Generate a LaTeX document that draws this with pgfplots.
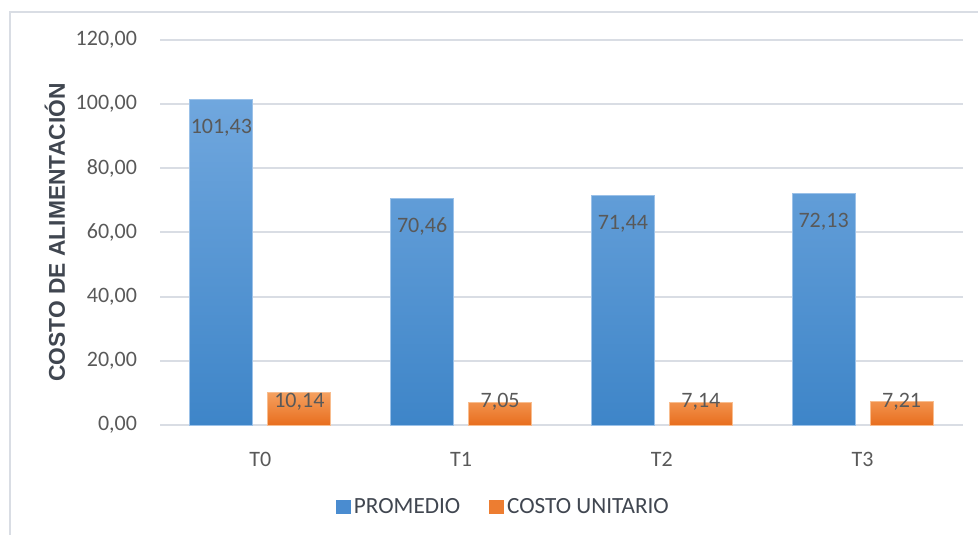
\documentclass[border=0pt]{standalone}
\usepackage{pgfplots}
\pgfplotsset{compat=1.18}
\usepackage{fontspec}
\setmainfont{Carlito}
\newfontfamily\labfont{Liberation Sans}
\definecolor{txt}{RGB}{89,89,89}
\definecolor{ylab}{RGB}{64,70,80}
\definecolor{gridc}{RGB}{217,221,228}
\definecolor{blueT}{RGB}{112,167,222}
\definecolor{blueB}{RGB}{62,133,200}
\definecolor{orT}{RGB}{245,160,95}
\definecolor{orB}{RGB}{232,110,30}
\definecolor{blueL}{RGB}{74,140,208}
\definecolor{orL}{RGB}{237,125,49}
\begin{document}
\begin{tikzpicture}
\path[use as bounding box] (0,0) rectangle (489bp,267.5bp);
\draw[gridc, line width=1bp] (5bp,0) -- (5bp,261.25bp) -- (489bp,261.25bp);
\begin{axis}[
  at={(80bp,55bp)}, anchor=south west,
  scale only axis, width=401.5bp, height=192.5bp,
  xmin=-0.5, xmax=3.5, ymin=0, ymax=120,
  xtick={0,1,2,3}, xticklabels={T0,T1,T2,T3},
  ytick={0,20,...,120},
  axis line style={draw=none},
  major tick length=0pt,
  ymajorgrids, grid style={gridc, line width=1bp},
  tick label style={font=\fontsize{11bp}{13bp}\selectfont, text=txt},
  yticklabel style={xshift=-8bp},
  xticklabel style={yshift=-10bp},
  /pgf/number format/fixed,
  /pgf/number format/fixed zerofill,
  /pgf/number format/precision=2,
  /pgf/number format/use comma,
  /pgf/number format/1000 sep={},
  /pgf/number format/assume math mode=true,
  ylabel={COSTO DE ALIMENTACIÓN},
  ylabel style={at={(rel axis cs:-0.131,0.5)}, anchor=center,
    font=\labfont\bfseries\fontsize{11.4bp}{13bp}\selectfont, text=ylab},
  legend style={at={(0.4284,-0.213)}, anchor=center, draw=none, fill=none,
    legend columns=2,
    font=\fontsize{11.6bp}{13bp}\selectfont, text=ylab,
    /tikz/every even column/.append style={column sep=13bp},
    nodes={inner sep=1.5bp}},
  clip=false,
]
\addlegendimage{legend image code/.code={\fill[blueL] (0bp,-3.3bp) rectangle (7bp,3.3bp);}}
\addlegendentry{PROMEDIO}
\addlegendimage{legend image code/.code={\fill[orL] (0bp,-3.3bp) rectangle (7bp,3.3bp);}}
\addlegendentry{COSTO UNITARIO}
\addplot[ybar, forget plot, bar width=31.5bp, bar shift=-19.5bp,
  top color=blueT, bottom color=blueB, draw=blueT!70!white, line width=0.5bp,
  nodes near coords,
  every node near coord/.append style={anchor=center, yshift=-14bp, xshift=-19.5bp,
    font=\fontsize{11bp}{13bp}\selectfont, text=txt}]
  coordinates {(0,101.43) (1,70.46) (2,71.44) (3,72.13)};
\addplot[ybar, forget plot, bar width=31.5bp, bar shift=19.5bp,
  top color=orT, bottom color=orB, draw=orT!70!white, line width=0.5bp,
  visualization depends on={y \as \rawy},
  nodes near coords,
  every node near coord/.append style={anchor=center, xshift=19.5bp,
    yshift={1.6042bp*(7.1-\rawy)},
    font=\fontsize{11bp}{13bp}\selectfont, text=txt}]
  coordinates {(0,10.14) (1,7.05) (2,7.14) (3,7.21)};
\end{axis}
\end{tikzpicture}
\end{document}
